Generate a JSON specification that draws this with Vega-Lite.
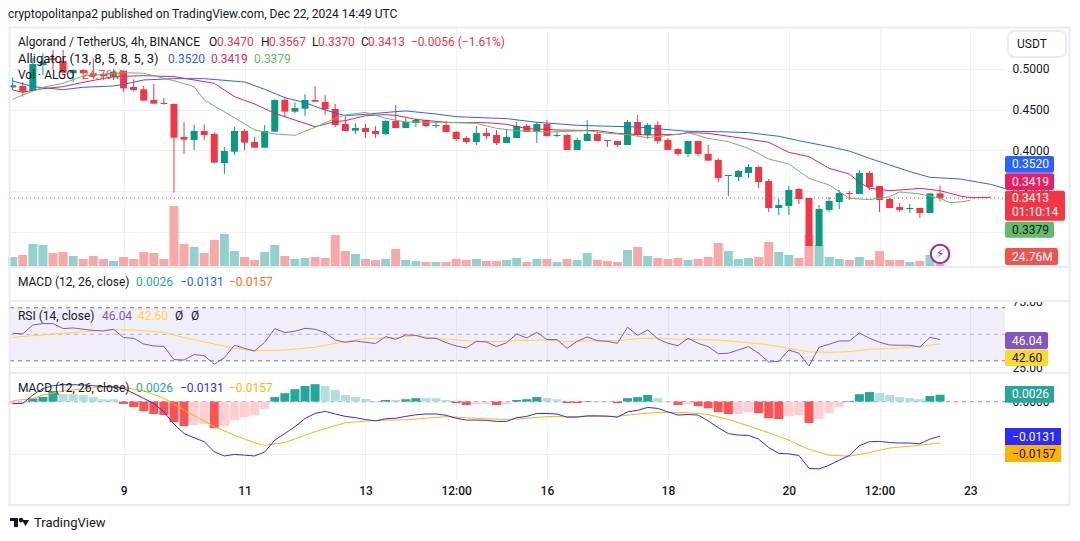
{"$schema":"https://vega.github.io/schema/vega-lite/v6.json","padding":0,"background":"#ffffff","spacing":0,"bounds":"flush",
"resolve":{"scale":{"color":"independent","fill":"independent"}},
"config":{"font":"Roboto","view":{"stroke":null},"axis":{"domain":false,"ticks":false,"title":null,"gridColor":"#f0f1f6","gridWidth":1,"labelColor":"#131722","labelFont":"Roboto","labelFontSize":12,"labelOverlap":false,"labelFlush":false}},
"datasets":{
"main":[
{"t":"2024-12-07T04:00Z","o":0.4773,"h":0.4896,"l":0.4741,"c":0.4798,"v":90,"r":50.8,"m":-0.0007,"g":-0.0011,"p":"d"},
{"t":"2024-12-07T08:00Z","o":0.4790,"h":0.4839,"l":0.4659,"c":0.4720,"v":110,"r":50.3,"m":-0.0007,"g":-0.0007,"p":"d"},
{"t":"2024-12-07T12:00Z","o":0.4728,"h":0.5130,"l":0.4728,"c":0.5060,"v":220,"r":57.0,"m":0.0025,"g":0.0012,"p":"a"},
{"t":"2024-12-07T16:00Z","o":0.5048,"h":0.5191,"l":0.4925,"c":0.5089,"v":210,"r":58.1,"m":0.0050,"g":0.0018,"p":"a"},
{"t":"2024-12-07T20:00Z","o":0.5130,"h":0.5232,"l":0.4987,"c":0.5109,"v":130,"r":58.1,"m":0.0060,"g":0.0040,"p":"a"},
{"t":"2024-12-08T00:00Z","o":0.5097,"h":0.5232,"l":0.4946,"c":0.4954,"v":140,"r":54.3,"m":0.0064,"g":0.0028,"p":"b"},
{"t":"2024-12-08T04:00Z","o":0.4946,"h":0.4995,"l":0.4843,"c":0.4987,"v":100,"r":54.8,"m":0.0064,"g":0.0028,"p":"b"},
{"t":"2024-12-08T08:00Z","o":0.4987,"h":0.4995,"l":0.4872,"c":0.4946,"v":70,"r":53.8,"m":0.0063,"g":0.0025,"p":"b"},
{"t":"2024-12-08T12:00Z","o":0.4946,"h":0.5130,"l":0.4884,"c":0.4913,"v":100,"r":53.0,"m":0.0060,"g":0.0017,"p":"b"},
{"t":"2024-12-08T16:00Z","o":0.4937,"h":0.4954,"l":0.4864,"c":0.4913,"v":70,"r":52.5,"m":0.0057,"g":0.0009,"p":"b"},
{"t":"2024-12-08T20:00Z","o":0.4896,"h":0.4995,"l":0.4864,"c":0.4966,"v":50,"r":53.8,"m":0.0056,"g":0.0009,"p":"b"},
{"t":"2024-12-09T00:00Z","o":0.4978,"h":0.4978,"l":0.4720,"c":0.4761,"v":90,"r":47.5,"m":0.0050,"g":-0.0009,"p":"c"},
{"t":"2024-12-09T04:00Z","o":0.4778,"h":0.4872,"l":0.4720,"c":0.4741,"v":70,"r":47.0,"m":0.0031,"g":-0.0021,"p":"c"},
{"t":"2024-12-09T08:00Z","o":0.4749,"h":0.4790,"l":0.4610,"c":0.4610,"v":140,"r":42.7,"m":0.0012,"g":-0.0036,"p":"c"},
{"t":"2024-12-09T12:00Z","o":0.4618,"h":0.4814,"l":0.4573,"c":0.4573,"v":130,"r":41.2,"m":-0.0007,"g":-0.0047,"p":"c"},
{"t":"2024-12-09T16:00Z","o":0.4581,"h":0.4642,"l":0.4561,"c":0.4569,"v":70,"r":40.9,"m":-0.0039,"g":-0.0051,"p":"c"},
{"t":"2024-12-09T20:00Z","o":0.4569,"h":0.4577,"l":0.3480,"c":0.4155,"v":600,"r":30.9,"m":-0.0085,"g":-0.0078,"p":"c"},
{"t":"2024-12-10T00:00Z","o":0.4163,"h":0.4344,"l":0.3954,"c":0.4131,"v":220,"r":30.6,"m":-0.0121,"g":-0.0093,"p":"c"},
{"t":"2024-12-10T04:00Z","o":0.4127,"h":0.4315,"l":0.4004,"c":0.4237,"v":190,"r":34.7,"m":-0.0137,"g":-0.0089,"p":"d"},
{"t":"2024-12-10T08:00Z","o":0.4237,"h":0.4319,"l":0.4127,"c":0.4188,"v":130,"r":33.9,"m":-0.0152,"g":-0.0085,"p":"d"},
{"t":"2024-12-10T12:00Z","o":0.4200,"h":0.4217,"l":0.3848,"c":0.3848,"v":260,"r":27.4,"m":-0.0190,"g":-0.0100,"p":"c"},
{"t":"2024-12-10T16:00Z","o":0.3844,"h":0.4040,"l":0.3709,"c":0.3991,"v":320,"r":32.4,"m":-0.0206,"g":-0.0093,"p":"d"},
{"t":"2024-12-10T20:00Z","o":0.3983,"h":0.4286,"l":0.3942,"c":0.4237,"v":150,"r":41.7,"m":-0.0200,"g":-0.0070,"p":"d"},
{"t":"2024-12-11T00:00Z","o":0.4237,"h":0.4262,"l":0.4004,"c":0.4094,"v":90,"r":39.4,"m":-0.0203,"g":-0.0059,"p":"d"},
{"t":"2024-12-11T04:00Z","o":0.4102,"h":0.4163,"l":0.4032,"c":0.4032,"v":60,"r":37.4,"m":-0.0206,"g":-0.0051,"p":"d"},
{"t":"2024-12-11T08:00Z","o":0.4032,"h":0.4311,"l":0.4032,"c":0.4237,"v":140,"r":44.0,"m":-0.0191,"g":-0.0028,"p":"d"},
{"t":"2024-12-11T12:00Z","o":0.4229,"h":0.4626,"l":0.4229,"c":0.4618,"v":210,"r":54.3,"m":-0.0146,"g":0.0017,"p":"a"},
{"t":"2024-12-11T16:00Z","o":0.4618,"h":0.4659,"l":0.4413,"c":0.4475,"v":100,"r":51.3,"m":-0.0121,"g":0.0032,"p":"a"},
{"t":"2024-12-11T20:00Z","o":0.4475,"h":0.4589,"l":0.4454,"c":0.4520,"v":70,"r":52.3,"m":-0.0095,"g":0.0047,"p":"a"},
{"t":"2024-12-12T00:00Z","o":0.4511,"h":0.4688,"l":0.4421,"c":0.4618,"v":80,"r":54.5,"m":-0.0064,"g":0.0059,"p":"a"},
{"t":"2024-12-12T04:00Z","o":0.4618,"h":0.4790,"l":0.4597,"c":0.4597,"v":90,"r":53.8,"m":-0.0045,"g":0.0066,"p":"a"},
{"t":"2024-12-12T08:00Z","o":0.4593,"h":0.4679,"l":0.4438,"c":0.4503,"v":80,"r":51.3,"m":-0.0037,"g":0.0059,"p":"b"},
{"t":"2024-12-12T12:00Z","o":0.4507,"h":0.4569,"l":0.4290,"c":0.4311,"v":310,"r":45.7,"m":-0.0047,"g":0.0044,"p":"b"},
{"t":"2024-12-12T16:00Z","o":0.4323,"h":0.4421,"l":0.4237,"c":0.4237,"v":150,"r":44.0,"m":-0.0056,"g":0.0025,"p":"b"},
{"t":"2024-12-12T20:00Z","o":0.4241,"h":0.4331,"l":0.4200,"c":0.4274,"v":120,"r":45.0,"m":-0.0061,"g":0.0017,"p":"b"},
{"t":"2024-12-13T00:00Z","o":0.4274,"h":0.4323,"l":0.4151,"c":0.4225,"v":70,"r":44.0,"m":-0.0068,"g":0.0010,"p":"b"},
{"t":"2024-12-13T04:00Z","o":0.4237,"h":0.4299,"l":0.4151,"c":0.4200,"v":60,"r":43.0,"m":-0.0073,"g":0.0002,"p":"b"},
{"t":"2024-12-13T08:00Z","o":0.4200,"h":0.4372,"l":0.4188,"c":0.4360,"v":70,"r":48.2,"m":-0.0065,"g":0.0006,"p":"a"},
{"t":"2024-12-13T12:00Z","o":0.4360,"h":0.4557,"l":0.4274,"c":0.4274,"v":170,"r":46.2,"m":-0.0063,"g":0.0006,"p":"b"},
{"t":"2024-12-13T16:00Z","o":0.4274,"h":0.4397,"l":0.4274,"c":0.4348,"v":60,"r":49.5,"m":-0.0056,"g":0.0009,"p":"a"},
{"t":"2024-12-13T20:00Z","o":0.4335,"h":0.4393,"l":0.4286,"c":0.4372,"v":50,"r":49.2,"m":-0.0050,"g":0.0013,"p":"a"},
{"t":"2024-12-14T00:00Z","o":0.4372,"h":0.4372,"l":0.4286,"c":0.4299,"v":40,"r":47.0,"m":-0.0047,"g":0.0013,"p":"b"},
{"t":"2024-12-14T04:00Z","o":0.4299,"h":0.4360,"l":0.4274,"c":0.4311,"v":40,"r":47.0,"m":-0.0047,"g":0.0013,"p":"b"},
{"t":"2024-12-14T08:00Z","o":0.4311,"h":0.4360,"l":0.4225,"c":0.4225,"v":40,"r":43.7,"m":-0.0052,"g":0.0006,"p":"b"},
{"t":"2024-12-14T12:00Z","o":0.4225,"h":0.4237,"l":0.4114,"c":0.4139,"v":70,"r":41.2,"m":-0.0063,"g":-0.0006,"p":"c"},
{"t":"2024-12-14T16:00Z","o":0.4151,"h":0.4176,"l":0.4077,"c":0.4102,"v":60,"r":39.7,"m":-0.0070,"g":-0.0013,"p":"c"},
{"t":"2024-12-14T20:00Z","o":0.4102,"h":0.4299,"l":0.4065,"c":0.4212,"v":70,"r":44.7,"m":-0.0070,"g":-0.0009,"p":"d"},
{"t":"2024-12-15T00:00Z","o":0.4212,"h":0.4274,"l":0.4139,"c":0.4176,"v":50,"r":44.2,"m":-0.0071,"g":-0.0009,"p":"d"},
{"t":"2024-12-15T04:00Z","o":0.4188,"h":0.4249,"l":0.4065,"c":0.4090,"v":50,"r":40.7,"m":-0.0075,"g":-0.0013,"p":"c"},
{"t":"2024-12-15T08:00Z","o":0.4090,"h":0.4249,"l":0.4090,"c":0.4163,"v":60,"r":43.7,"m":-0.0075,"g":-0.0009,"p":"d"},
{"t":"2024-12-15T12:00Z","o":0.4151,"h":0.4348,"l":0.4151,"c":0.4299,"v":80,"r":50.3,"m":-0.0061,"g":0.0006,"p":"a"},
{"t":"2024-12-15T16:00Z","o":0.4299,"h":0.4323,"l":0.4225,"c":0.4225,"v":40,"r":47.2,"m":-0.0056,"g":0.0009,"p":"a"},
{"t":"2024-12-15T20:00Z","o":0.4225,"h":0.4348,"l":0.4090,"c":0.4323,"v":70,"r":51.5,"m":-0.0045,"g":0.0017,"p":"a"},
{"t":"2024-12-16T00:00Z","o":0.4323,"h":0.4372,"l":0.4163,"c":0.4176,"v":70,"r":46.0,"m":-0.0045,"g":0.0013,"p":"b"},
{"t":"2024-12-16T04:00Z","o":0.4176,"h":0.4237,"l":0.4163,"c":0.4188,"v":40,"r":46.0,"m":-0.0047,"g":0.0009,"p":"b"},
{"t":"2024-12-16T08:00Z","o":0.4188,"h":0.4200,"l":0.4004,"c":0.4004,"v":70,"r":39.4,"m":-0.0059,"g":-0.0006,"p":"c"},
{"t":"2024-12-16T12:00Z","o":0.4004,"h":0.4151,"l":0.4004,"c":0.4127,"v":60,"r":44.7,"m":-0.0059,"g":-0.0006,"p":"c"},
{"t":"2024-12-16T16:00Z","o":0.4114,"h":0.4372,"l":0.4114,"c":0.4200,"v":130,"r":48.0,"m":-0.0054,"g":0.0002,"p":"a"},
{"t":"2024-12-16T20:00Z","o":0.4200,"h":0.4249,"l":0.4114,"c":0.4114,"v":60,"r":45.2,"m":-0.0054,"g":0.0002,"p":"b"},
{"t":"2024-12-17T00:00Z","o":0.4127,"h":0.4127,"l":0.4041,"c":0.4114,"v":50,"r":44.7,"m":-0.0055,"g":0.0002,"p":"b"},
{"t":"2024-12-17T04:00Z","o":0.4114,"h":0.4114,"l":0.4041,"c":0.4065,"v":40,"r":43.2,"m":-0.0059,"g":-0.0006,"p":"c"},
{"t":"2024-12-17T08:00Z","o":0.4065,"h":0.4372,"l":0.4065,"c":0.4348,"v":160,"r":55.3,"m":-0.0039,"g":0.0013,"p":"a"},
{"t":"2024-12-17T12:00Z","o":0.4348,"h":0.4434,"l":0.4176,"c":0.4188,"v":190,"r":49.2,"m":-0.0033,"g":0.0017,"p":"a"},
{"t":"2024-12-17T16:00Z","o":0.4188,"h":0.4335,"l":0.4139,"c":0.4311,"v":100,"r":53.3,"m":-0.0022,"g":0.0025,"p":"a"},
{"t":"2024-12-17T20:00Z","o":0.4311,"h":0.4360,"l":0.4077,"c":0.4114,"v":80,"r":46.5,"m":-0.0026,"g":0.0013,"p":"b"},
{"t":"2024-12-18T00:00Z","o":0.4127,"h":0.4151,"l":0.4004,"c":0.4004,"v":70,"r":43.2,"m":-0.0039,"g":0.0002,"p":"b"},
{"t":"2024-12-18T04:00Z","o":0.4016,"h":0.4028,"l":0.3930,"c":0.3955,"v":80,"r":41.4,"m":-0.0051,"g":-0.0013,"p":"c"},
{"t":"2024-12-18T08:00Z","o":0.3955,"h":0.4114,"l":0.3918,"c":0.4114,"v":60,"r":47.0,"m":-0.0049,"g":-0.0009,"p":"d"},
{"t":"2024-12-18T12:00Z","o":0.4114,"h":0.4114,"l":0.3930,"c":0.3955,"v":70,"r":43.2,"m":-0.0051,"g":-0.0017,"p":"c"},
{"t":"2024-12-18T16:00Z","o":0.3955,"h":0.4065,"l":0.3873,"c":0.3873,"v":90,"r":40.7,"m":-0.0073,"g":-0.0025,"p":"c"},
{"t":"2024-12-18T20:00Z","o":0.3881,"h":0.3905,"l":0.3610,"c":0.3660,"v":230,"r":35.4,"m":-0.0099,"g":-0.0040,"p":"c"},
{"t":"2024-12-19T00:00Z","o":0.3684,"h":0.3697,"l":0.3438,"c":0.3697,"v":150,"r":35.7,"m":-0.0121,"g":-0.0047,"p":"c"},
{"t":"2024-12-19T04:00Z","o":0.3672,"h":0.3758,"l":0.3623,"c":0.3746,"v":70,"r":38.2,"m":-0.0127,"g":-0.0047,"p":"d"},
{"t":"2024-12-19T08:00Z","o":0.3721,"h":0.3832,"l":0.3660,"c":0.3795,"v":80,"r":40.7,"m":-0.0128,"g":-0.0040,"p":"d"},
{"t":"2024-12-19T12:00Z","o":0.3795,"h":0.3807,"l":0.3537,"c":0.3610,"v":90,"r":35.7,"m":-0.0142,"g":-0.0044,"p":"c"},
{"t":"2024-12-19T16:00Z","o":0.3623,"h":0.3647,"l":0.3242,"c":0.3291,"v":240,"r":29.1,"m":-0.0174,"g":-0.0063,"p":"c"},
{"t":"2024-12-19T20:00Z","o":0.3291,"h":0.3402,"l":0.3205,"c":0.3328,"v":140,"r":29.6,"m":-0.0196,"g":-0.0066,"p":"c"},
{"t":"2024-12-20T00:00Z","o":0.3316,"h":0.3561,"l":0.3205,"c":0.3512,"v":110,"r":38.2,"m":-0.0198,"g":-0.0055,"p":"d"},
{"t":"2024-12-20T04:00Z","o":0.3525,"h":0.3537,"l":0.3340,"c":0.3402,"v":80,"r":35.7,"m":-0.0204,"g":-0.0051,"p":"d"},
{"t":"2024-12-20T08:00Z","o":0.3414,"h":0.3414,"l":0.2824,"c":0.2824,"v":310,"r":26.1,"m":-0.0253,"g":-0.0081,"p":"c"},
{"t":"2024-12-20T12:00Z","o":0.2824,"h":0.3328,"l":0.2824,"c":0.3279,"v":210,"r":40.2,"m":-0.0255,"g":-0.0066,"p":"d"},
{"t":"2024-12-20T16:00Z","o":0.3267,"h":0.3426,"l":0.3242,"c":0.3377,"v":90,"r":42.5,"m":-0.0241,"g":-0.0044,"p":"d"},
{"t":"2024-12-20T20:00Z","o":0.3365,"h":0.3512,"l":0.3279,"c":0.3475,"v":70,"r":45.0,"m":-0.0222,"g":-0.0021,"p":"d"},
{"t":"2024-12-21T00:00Z","o":0.3475,"h":0.3500,"l":0.3389,"c":0.3463,"v":60,"r":45.0,"m":-0.0204,"g":0.0002,"p":"a"},
{"t":"2024-12-21T04:00Z","o":0.3463,"h":0.3758,"l":0.3463,"c":0.3721,"v":90,"r":51.0,"m":-0.0167,"g":0.0028,"p":"a"},
{"t":"2024-12-21T08:00Z","o":0.3721,"h":0.3746,"l":0.3512,"c":0.3549,"v":60,"r":47.0,"m":-0.0152,"g":0.0036,"p":"a"},
{"t":"2024-12-21T12:00Z","o":0.3561,"h":0.3561,"l":0.3242,"c":0.3389,"v":150,"r":44.0,"m":-0.0151,"g":0.0032,"p":"b"},
{"t":"2024-12-21T16:00Z","o":0.3402,"h":0.3414,"l":0.3291,"c":0.3291,"v":60,"r":41.9,"m":-0.0155,"g":0.0025,"p":"b"},
{"t":"2024-12-21T20:00Z","o":0.3303,"h":0.3353,"l":0.3242,"c":0.3267,"v":60,"r":41.7,"m":-0.0157,"g":0.0017,"p":"b"},
{"t":"2024-12-22T00:00Z","o":0.3279,"h":0.3340,"l":0.3230,"c":0.3291,"v":40,"r":41.7,"m":-0.0157,"g":0.0013,"p":"b"},
{"t":"2024-12-22T04:00Z","o":0.3291,"h":0.3291,"l":0.3168,"c":0.3230,"v":50,"r":40.4,"m":-0.0160,"g":0.0009,"p":"b"},
{"t":"2024-12-22T08:00Z","o":0.3230,"h":0.3470,"l":0.3230,"c":0.3470,"v":110,"r":47.7,"m":-0.0142,"g":0.0021,"p":"a"},
{"t":"2024-12-22T12:00Z","o":0.3470,"h":0.3567,"l":0.3370,"c":0.3413,"v":24.76,"r":46.04,"m":-0.0131,"g":0.0026,"p":"a"}
],
"jaw":[{"t":"2024-12-07T04:00Z","v":0.4851},{"t":"2024-12-07T12:00Z","v":0.4782},{"t":"2024-12-08T00:00Z","v":0.4745},{"t":"2024-12-08T08:00Z","v":0.4774},{"t":"2024-12-08T20:00Z","v":0.4790},{"t":"2024-12-09T00:00Z","v":0.4810},{"t":"2024-12-09T08:00Z","v":0.4864},{"t":"2024-12-09T20:00Z","v":0.4880},{"t":"2024-12-10T08:00Z","v":0.4880},{"t":"2024-12-11T00:00Z","v":0.4839},{"t":"2024-12-11T08:00Z","v":0.4749},{"t":"2024-12-11T16:00Z","v":0.4647},{"t":"2024-12-12T00:00Z","v":0.4585},{"t":"2024-12-12T08:00Z","v":0.4495},{"t":"2024-12-12T16:00Z","v":0.4425},{"t":"2024-12-13T00:00Z","v":0.4442},{"t":"2024-12-13T12:00Z","v":0.4475},{"t":"2024-12-13T16:00Z","v":0.4483},{"t":"2024-12-14T04:00Z","v":0.4446},{"t":"2024-12-14T12:00Z","v":0.4413},{"t":"2024-12-15T08:00Z","v":0.4389},{"t":"2024-12-15T20:00Z","v":0.4344},{"t":"2024-12-16T12:00Z","v":0.4307},{"t":"2024-12-17T12:00Z","v":0.4286},{"t":"2024-12-18T08:00Z","v":0.4233},{"t":"2024-12-18T20:00Z","v":0.4229},{"t":"2024-12-19T08:00Z","v":0.4217},{"t":"2024-12-19T20:00Z","v":0.4172},{"t":"2024-12-20T04:00Z","v":0.4118},{"t":"2024-12-20T16:00Z","v":0.4045},{"t":"2024-12-21T00:00Z","v":0.3991},{"t":"2024-12-21T08:00Z","v":0.3901},{"t":"2024-12-21T16:00Z","v":0.3820},{"t":"2024-12-22T00:00Z","v":0.3738},{"t":"2024-12-22T08:00Z","v":0.3668},{"t":"2024-12-22T20:00Z","v":0.3647},{"t":"2024-12-23T08:00Z","v":0.3582},{"t":"2024-12-23T16:00Z","v":0.3512}],
"teeth":[{"t":"2024-12-07T04:00Z","v":0.4741},{"t":"2024-12-07T08:00Z","v":0.4712},{"t":"2024-12-07T12:00Z","v":0.4737},{"t":"2024-12-07T16:00Z","v":0.4757},{"t":"2024-12-08T00:00Z","v":0.4782},{"t":"2024-12-08T08:00Z","v":0.4835},{"t":"2024-12-08T20:00Z","v":0.4905},{"t":"2024-12-09T08:00Z","v":0.4917},{"t":"2024-12-09T20:00Z","v":0.4905},{"t":"2024-12-10T12:00Z","v":0.4823},{"t":"2024-12-10T20:00Z","v":0.4659},{"t":"2024-12-11T04:00Z","v":0.4569},{"t":"2024-12-11T12:00Z","v":0.4454},{"t":"2024-12-11T20:00Z","v":0.4372},{"t":"2024-12-12T04:00Z","v":0.4290},{"t":"2024-12-12T12:00Z","v":0.4352},{"t":"2024-12-12T16:00Z","v":0.4364},{"t":"2024-12-13T00:00Z","v":0.4425},{"t":"2024-12-13T08:00Z","v":0.4438},{"t":"2024-12-13T12:00Z","v":0.4430},{"t":"2024-12-13T20:00Z","v":0.4380},{"t":"2024-12-14T08:00Z","v":0.4343},{"t":"2024-12-15T00:00Z","v":0.4339},{"t":"2024-12-15T08:00Z","v":0.4319},{"t":"2024-12-15T16:00Z","v":0.4266},{"t":"2024-12-16T04:00Z","v":0.4250},{"t":"2024-12-16T20:00Z","v":0.4241},{"t":"2024-12-17T04:00Z","v":0.4208},{"t":"2024-12-17T16:00Z","v":0.4188},{"t":"2024-12-18T04:00Z","v":0.4196},{"t":"2024-12-18T08:00Z","v":0.4217},{"t":"2024-12-18T16:00Z","v":0.4208},{"t":"2024-12-19T04:00Z","v":0.4155},{"t":"2024-12-19T16:00Z","v":0.4098},{"t":"2024-12-20T00:00Z","v":0.3975},{"t":"2024-12-20T08:00Z","v":0.3922},{"t":"2024-12-20T16:00Z","v":0.3778},{"t":"2024-12-21T00:00Z","v":0.3709},{"t":"2024-12-21T04:00Z","v":0.3607},{"t":"2024-12-21T08:00Z","v":0.3533},{"t":"2024-12-21T16:00Z","v":0.3504},{"t":"2024-12-22T00:00Z","v":0.3521},{"t":"2024-12-22T04:00Z","v":0.3533},{"t":"2024-12-22T12:00Z","v":0.3504},{"t":"2024-12-22T20:00Z","v":0.3439},{"t":"2024-12-23T00:00Z","v":0.3418},{"t":"2024-12-23T08:00Z","v":0.3422}],
"lips":[{"t":"2024-12-07T04:00Z","v":0.4626},{"t":"2024-12-07T08:00Z","v":0.4679},{"t":"2024-12-07T16:00Z","v":0.4774},{"t":"2024-12-08T00:00Z","v":0.4823},{"t":"2024-12-08T08:00Z","v":0.4913},{"t":"2024-12-09T00:00Z","v":0.4954},{"t":"2024-12-09T08:00Z","v":0.4946},{"t":"2024-12-09T20:00Z","v":0.4855},{"t":"2024-12-10T04:00Z","v":0.4782},{"t":"2024-12-10T08:00Z","v":0.4618},{"t":"2024-12-10T12:00Z","v":0.4544},{"t":"2024-12-10T20:00Z","v":0.4401},{"t":"2024-12-11T04:00Z","v":0.4250},{"t":"2024-12-11T12:00Z","v":0.4200},{"t":"2024-12-11T20:00Z","v":0.4184},{"t":"2024-12-12T04:00Z","v":0.4282},{"t":"2024-12-12T12:00Z","v":0.4393},{"t":"2024-12-12T16:00Z","v":0.4434},{"t":"2024-12-13T00:00Z","v":0.4466},{"t":"2024-12-13T08:00Z","v":0.4393},{"t":"2024-12-13T16:00Z","v":0.4348},{"t":"2024-12-14T08:00Z","v":0.4343},{"t":"2024-12-14T20:00Z","v":0.4331},{"t":"2024-12-15T04:00Z","v":0.4270},{"t":"2024-12-15T12:00Z","v":0.4241},{"t":"2024-12-16T00:00Z","v":0.4225},{"t":"2024-12-16T16:00Z","v":0.4241},{"t":"2024-12-17T00:00Z","v":0.4208},{"t":"2024-12-17T08:00Z","v":0.4192},{"t":"2024-12-17T16:00Z","v":0.4155},{"t":"2024-12-18T04:00Z","v":0.4196},{"t":"2024-12-18T08:00Z","v":0.4217},{"t":"2024-12-18T16:00Z","v":0.4147},{"t":"2024-12-19T00:00Z","v":0.4106},{"t":"2024-12-19T08:00Z","v":0.4024},{"t":"2024-12-19T16:00Z","v":0.3893},{"t":"2024-12-20T00:00Z","v":0.3832},{"t":"2024-12-20T08:00Z","v":0.3656},{"t":"2024-12-20T16:00Z","v":0.3574},{"t":"2024-12-21T00:00Z","v":0.3410},{"t":"2024-12-21T08:00Z","v":0.3394},{"t":"2024-12-21T16:00Z","v":0.3430},{"t":"2024-12-21T20:00Z","v":0.3488},{"t":"2024-12-22T04:00Z","v":0.3463},{"t":"2024-12-22T12:00Z","v":0.3410},{"t":"2024-12-22T16:00Z","v":0.3357},{"t":"2024-12-22T20:00Z","v":0.3365},{"t":"2024-12-23T00:00Z","v":0.3385}],
"rsima":[{"t":"2024-12-07T04:00Z","v":47.7},{"t":"2024-12-08T00:00Z","v":50.8},{"t":"2024-12-08T20:00Z","v":53.5},{"t":"2024-12-09T04:00Z","v":53.3},{"t":"2024-12-09T16:00Z","v":51.5},{"t":"2024-12-10T00:00Z","v":47.5},{"t":"2024-12-10T12:00Z","v":42.7},{"t":"2024-12-10T20:00Z","v":39.4},{"t":"2024-12-11T04:00Z","v":37.4},{"t":"2024-12-11T16:00Z","v":38.2},{"t":"2024-12-12T04:00Z","v":40.2},{"t":"2024-12-12T16:00Z","v":44.5},{"t":"2024-12-13T00:00Z","v":46.7},{"t":"2024-12-13T12:00Z","v":47.5},{"t":"2024-12-13T20:00Z","v":49.0},{"t":"2024-12-14T04:00Z","v":47.0},{"t":"2024-12-14T12:00Z","v":45.7},{"t":"2024-12-14T20:00Z","v":44.7},{"t":"2024-12-15T04:00Z","v":44.5},{"t":"2024-12-15T12:00Z","v":45.2},{"t":"2024-12-16T00:00Z","v":45.7},{"t":"2024-12-16T08:00Z","v":44.5},{"t":"2024-12-16T16:00Z","v":45.0},{"t":"2024-12-17T04:00Z","v":45.2},{"t":"2024-12-17T12:00Z","v":46.7},{"t":"2024-12-17T20:00Z","v":47.2},{"t":"2024-12-18T04:00Z","v":46.2},{"t":"2024-12-18T20:00Z","v":45.7},{"t":"2024-12-19T08:00Z","v":43.7},{"t":"2024-12-19T16:00Z","v":42.0},{"t":"2024-12-20T00:00Z","v":39.4},{"t":"2024-12-20T08:00Z","v":36.7},{"t":"2024-12-20T16:00Z","v":36.4},{"t":"2024-12-21T00:00Z","v":36.9},{"t":"2024-12-21T08:00Z","v":38.7},{"t":"2024-12-21T16:00Z","v":39.2},{"t":"2024-12-22T00:00Z","v":40.2},{"t":"2024-12-22T12:00Z","v":42.6}],
"signal":[{"t":"2024-12-07T04:00Z","v":0.0003},{"t":"2024-12-07T12:00Z","v":0.0012},{"t":"2024-12-07T16:00Z","v":0.0025},{"t":"2024-12-08T00:00Z","v":0.0040},{"t":"2024-12-08T12:00Z","v":0.0052},{"t":"2024-12-09T00:00Z","v":0.0054},{"t":"2024-12-09T08:00Z","v":0.0041},{"t":"2024-12-09T16:00Z","v":0.0013},{"t":"2024-12-10T00:00Z","v":-0.0032},{"t":"2024-12-10T12:00Z","v":-0.0095},{"t":"2024-12-10T20:00Z","v":-0.0127},{"t":"2024-12-11T04:00Z","v":-0.0156},{"t":"2024-12-11T08:00Z","v":-0.0166},{"t":"2024-12-11T16:00Z","v":-0.0155},{"t":"2024-12-12T04:00Z","v":-0.0114},{"t":"2024-12-12T16:00Z","v":-0.0080},{"t":"2024-12-13T00:00Z","v":-0.0074},{"t":"2024-12-13T08:00Z","v":-0.0070},{"t":"2024-12-13T16:00Z","v":-0.0069},{"t":"2024-12-14T00:00Z","v":-0.0063},{"t":"2024-12-14T08:00Z","v":-0.0057},{"t":"2024-12-14T16:00Z","v":-0.0061},{"t":"2024-12-15T00:00Z","v":-0.0065},{"t":"2024-12-15T08:00Z","v":-0.0068},{"t":"2024-12-15T16:00Z","v":-0.0063},{"t":"2024-12-16T00:00Z","v":-0.0057},{"t":"2024-12-16T08:00Z","v":-0.0057},{"t":"2024-12-16T16:00Z","v":-0.0056},{"t":"2024-12-17T04:00Z","v":-0.0056},{"t":"2024-12-17T12:00Z","v":-0.0047},{"t":"2024-12-17T20:00Z","v":-0.0041},{"t":"2024-12-18T04:00Z","v":-0.0041},{"t":"2024-12-18T08:00Z","v":-0.0042},{"t":"2024-12-18T16:00Z","v":-0.0049},{"t":"2024-12-19T00:00Z","v":-0.0068},{"t":"2024-12-19T08:00Z","v":-0.0092},{"t":"2024-12-19T16:00Z","v":-0.0118},{"t":"2024-12-20T00:00Z","v":-0.0146},{"t":"2024-12-20T08:00Z","v":-0.0181},{"t":"2024-12-20T16:00Z","v":-0.0203},{"t":"2024-12-21T00:00Z","v":-0.0207},{"t":"2024-12-21T08:00Z","v":-0.0193},{"t":"2024-12-21T16:00Z","v":-0.0176},{"t":"2024-12-22T00:00Z","v":-0.0169},{"t":"2024-12-22T12:00Z","v":-0.0157}]
},
"vconcat":[
{"width":995,"height":240,
"encoding":{"x":{"field":"t","type":"temporal","title":null,"scale":{"type":"utc","padding":0,"domain":[1733540160000,1734961620000]},"axis":{"values":[1733702400000,1733875200000,1734048000000,1734177600000,1734307200000,1734480000000,1734652800000,1734782400000,1734912000000],"labels":false,"grid":true}}},
"resolve":{"scale":{"y":"independent"}},
"layer":[
{"data":{"name":"main"},"mark":{"type":"bar","width":9},"encoding":{"y":{"field":"v","type":"quantitative","title":null,"axis":null,"scale":{"domain":[-10,2390],"nice":false,"zero":false}},"y2":{"datum":0},"color":{"condition":{"test":"datum.c>=datum.o","value":"#93d2cc"},"value":"#f7a9a7"}}},
{"layer":[
{"data":{"values":[{"t":"2024-12-07T02:56Z","t2":"2024-12-23T13:47Z","y":0.3413}]},"mark":{"type":"rule","stroke":"#f23645","strokeWidth":1,"strokeDash":[1,3]},"encoding":{"x2":{"field":"t2"},"y":{"field":"y","type":"quantitative","title":null,"scale":{"domain":[0.25663,0.55147],"nice":false,"zero":false},"axis":{"orient":"right","values":[0.5,0.45,0.4,0.35,0.3],"format":".4f","grid":true,"labelPadding":7}}}},
{"data":{"name":"main"},"mark":{"type":"rule","strokeWidth":1},"encoding":{"y":{"field":"h","type":"quantitative"},"y2":{"field":"l"},"color":{"condition":{"test":"datum.c>=datum.o","value":"#089981"},"value":"#f23645"}}},
{"data":{"name":"main"},"mark":{"type":"bar","width":7},"encoding":{"y":{"field":"o","type":"quantitative"},"y2":{"field":"c"},"color":{"condition":{"test":"datum.c>=datum.o","value":"#089981"},"value":"#f23645"}}},
{"data":{"name":"jaw"},"mark":{"type":"line","stroke":"#2962ff","strokeWidth":1,"clip":true},"encoding":{"y":{"field":"v","type":"quantitative"}}},
{"data":{"name":"teeth"},"mark":{"type":"line","stroke":"#e91e63","strokeWidth":1,"clip":true},"encoding":{"y":{"field":"v","type":"quantitative"}}},
{"data":{"name":"lips"},"mark":{"type":"line","stroke":"#66bb6a","strokeWidth":1,"clip":true},"encoding":{"y":{"field":"v","type":"quantitative"}}},
{"data":{"values":[
{"t":"2024-12-23T13:47Z","t2":"2024-12-24T09:14Z","y":0.3930,"y2":0.3725,"k":"blue"},
{"t":"2024-12-23T13:47Z","t2":"2024-12-24T09:14Z","y":0.3717,"y2":0.3512,"k":"pink"},
{"t":"2024-12-23T13:47Z","t2":"2024-12-24T13:36Z","y":0.3504,"y2":0.3135,"k":"red"},
{"t":"2024-12-23T13:47Z","t2":"2024-12-24T09:14Z","y":0.3123,"y2":0.2926,"k":"green"},
{"t":"2024-12-23T13:47Z","t2":"2024-12-24T10:49Z","y":0.2800,"y2":0.2591,"k":"volred"}
]},"mark":{"type":"rect","cornerRadius":2},"encoding":{"x2":{"field":"t2"},"y":{"field":"y","type":"quantitative"},"y2":{"field":"y2"},"fill":{"field":"k","type":"nominal","legend":null,"scale":{"domain":["blue","pink","red","green","volred"],"range":["#2962ff","#e91e63","#f23645","#66bb6a","#ef5350"]}}}},
{"data":{"values":[{"t":"2024-12-23T14:58Z","t2":"2024-12-24T14:00Z","y":0.5466,"y2":0.5146}]},"mark":{"type":"rect","cornerRadius":6,"fill":"transparent","stroke":"#e9ebf2","strokeWidth":2},"encoding":{"x2":{"field":"t2"},"y":{"field":"y","type":"quantitative"},"y2":{"field":"y2"}}},
{"data":{"values":[{"t":"2024-12-22T12:00Z","y":0.2726}]},"mark":{"type":"point","filled":true,"fill":"#ffffff","stroke":"#9c27b0","strokeWidth":2,"size":340,"opacity":1},"encoding":{"y":{"field":"y","type":"quantitative"}}},
{"data":{"values":[{"t":"2024-12-22T12:00Z","y":0.2726,"s":"⚡"}]},"mark":{"type":"text","align":"center","baseline":"middle","font":"DejaVu Sans","fontSize":13,"color":"#9c27b0"},"encoding":{"y":{"field":"y","type":"quantitative"},"text":{"field":"s"}}},
{"data":{"values":[
{"t":"2024-12-07T06:06Z","y":0.5122,"s":"Alligator (13, 8, 5, 8, 5, 3)"}
]},"mark":{"type":"text","align":"left","baseline":"middle","fontSize":13,"color":"#131722"},"encoding":{"y":{"field":"y","type":"quantitative"},"text":{"field":"s"}}},
{"data":{"values":[
{"t":"2024-12-07T02:08Z","y":0.5674,"s":"cryptopolitanpa2 published on TradingView.com, Dec 22, 2024 14:49 UTC","k":"ink"},
{"t":"2024-12-07T06:06Z","y":0.5330,"s":"Algorand / TetherUS, 4h, BINANCE","k":"ink"},
{"t":"2024-12-10T09:54Z","y":0.5330,"s":"O","k":"ink"},
{"t":"2024-12-10T13:04Z","y":0.5330,"s":"0.3470","k":"red"},
{"t":"2024-12-11T06:32Z","y":0.5330,"s":"H","k":"ink"},
{"t":"2024-12-11T09:43Z","y":0.5330,"s":"0.3567","k":"red"},
{"t":"2024-12-12T02:46Z","y":0.5330,"s":"L","k":"ink"},
{"t":"2024-12-12T05:09Z","y":0.5330,"s":"0.3370","k":"red"},
{"t":"2024-12-12T22:13Z","y":0.5330,"s":"C","k":"ink"},
{"t":"2024-12-13T01:00Z","y":0.5330,"s":"0.3413","k":"red"},
{"t":"2024-12-13T18:03Z","y":0.5330,"s":"−0.0056 (−1.61%)","k":"red"},
{"t":"2024-12-09T17:38Z","y":0.5122,"s":"0.3520","k":"blue"},
{"t":"2024-12-10T10:41Z","y":0.5122,"s":"0.3419","k":"pink"},
{"t":"2024-12-11T03:45Z","y":0.5122,"s":"0.3379","k":"green"},
{"t":"2024-12-07T06:06Z","y":0.4925,"s":"Vol · ALGO","k":"ink"},
{"t":"2024-12-08T07:30Z","y":0.4925,"s":"24.76M","k":"volred"},
{"t":"2024-12-23T18:33Z","y":0.5300,"s":"USDT","k":"ink"},
{"t":"2024-12-23T16:34Z","y":0.3832,"s":"0.3520","k":"white"},
{"t":"2024-12-23T16:34Z","y":0.3615,"s":"0.3419","k":"white"},
{"t":"2024-12-23T16:34Z","y":0.3408,"s":"0.3413","k":"white"},
{"t":"2024-12-23T16:34Z","y":0.3242,"s":"01:10:14","k":"white"},
{"t":"2024-12-23T16:34Z","y":0.3024,"s":"0.3379","k":"ink"},
{"t":"2024-12-23T16:34Z","y":0.2695,"s":"24.76M","k":"white"}
]},"mark":{"type":"text","align":"left","baseline":"middle","fontSize":12},"encoding":{"y":{"field":"y","type":"quantitative"},"text":{"field":"s"},"color":{"field":"k","type":"nominal","legend":null,"scale":{"domain":["ink","white","red","blue","pink","green","volred"],"range":["#131722","#ffffff","#f23645","#2962ff","#e91e63","#66bb6a","#ef5350"]}}}}
]}
]},
{"width":995,"height":34,
"data":{"values":[
{"t":"2024-12-07T06:06Z","y":0.559,"s":"MACD (12, 26, close)","k":"ink"},
{"t":"2024-12-09T04:56Z","y":0.559,"s":"0.0026","k":"teal"},
{"t":"2024-12-09T22:23Z","y":0.559,"s":"−0.0131","k":"blue"},
{"t":"2024-12-10T17:50Z","y":0.559,"s":"−0.0157","k":"orange"}
]},
"mark":{"type":"text","align":"left","baseline":"middle","fontSize":12},
"encoding":{"x":{"field":"t","type":"temporal","axis":null,"scale":{"type":"utc","padding":0,"domain":[1733540160000,1734961620000]}},"y":{"field":"y","type":"quantitative","axis":null,"scale":{"domain":[0,1],"reverse":false}},"text":{"field":"s"},"color":{"field":"k","type":"nominal","legend":null,"scale":{"domain":["ink","teal","blue","orange"],"range":["#131722","#22ab94","#2962ff","#ff6d00"]}}}
},
{"width":995,"height":72,
"encoding":{"x":{"field":"t","type":"temporal","title":null,"scale":{"type":"utc","padding":0,"domain":[1733540160000,1734961620000]},"axis":{"values":[1733702400000,1733875200000,1734048000000,1734177600000,1734307200000,1734480000000,1734652800000,1734782400000,1734912000000],"labels":false,"grid":true}}},
"layer":[
{"data":{"values":[{"t":"2024-12-07T02:56Z","t2":"2024-12-23T13:47Z","y":70,"y2":30}]},"mark":{"type":"rect","fill":"#7e57c2","opacity":0.1},"encoding":{"x2":{"field":"t2"},"y":{"field":"y","type":"quantitative","title":null,"scale":{"domain":[20.79,75.13],"nice":false,"zero":false},"axis":{"orient":"right","values":[75,50,25],"format":".2f","grid":true,"labelPadding":7}},"y2":{"field":"y2"}}},
{"data":{"values":[{"t":"2024-12-07T02:56Z","t2":"2024-12-23T13:47Z","y":70},{"t":"2024-12-07T02:56Z","t2":"2024-12-23T13:47Z","y":30}]},"mark":{"type":"rule","stroke":"#787b86","strokeWidth":1,"strokeDash":[4,4]},"encoding":{"x2":{"field":"t2"},"y":{"field":"y","type":"quantitative"}}},
{"data":{"values":[{"t":"2024-12-07T02:56Z","t2":"2024-12-23T13:47Z","y":50}]},"mark":{"type":"rule","stroke":"#787b86","strokeOpacity":0.5,"strokeWidth":1,"strokeDash":[4,4]},"encoding":{"x2":{"field":"t2"},"y":{"field":"y","type":"quantitative"}}},
{"data":{"name":"rsima"},"mark":{"type":"line","stroke":"#fdd835","strokeWidth":1},"encoding":{"y":{"field":"v","type":"quantitative"}}},
{"data":{"name":"main"},"mark":{"type":"line","stroke":"#7e57c2","strokeWidth":1},"encoding":{"y":{"field":"r","type":"quantitative"}}},
{"data":{"values":[{"t":"2024-12-23T14:00Z","t2":"2024-12-24T14:00Z","y":78.9,"y2":74.4}]},"mark":{"type":"rect","fill":"#ffffff"},"encoding":{"x2":{"field":"t2"},"y":{"field":"y","type":"quantitative"},"y2":{"field":"y2"}}},
{"data":{"values":[
{"t":"2024-12-23T13:47Z","t2":"2024-12-24T06:51Z","y":51.7,"y2":38.9,"k":"purple"},
{"t":"2024-12-23T13:47Z","t2":"2024-12-24T06:51Z","y":38.5,"y2":26.1,"k":"yellow"}
]},"mark":{"type":"rect","cornerRadius":2},"encoding":{"x2":{"field":"t2"},"y":{"field":"y","type":"quantitative"},"y2":{"field":"y2"},"fill":{"field":"k","type":"nominal","legend":null,"scale":{"domain":["purple","yellow"],"range":["#7e57c2","#fdd835"]}}}},
{"data":{"values":[
{"t":"2024-12-07T06:06Z","y":63.8,"s":"RSI (14, close)","k":"ink"},
{"t":"2024-12-08T15:26Z","y":63.8,"s":"46.04","k":"purple"},
{"t":"2024-12-09T05:43Z","y":63.8,"s":"42.60","k":"yellow"},
{"t":"2024-12-09T20:24Z","y":63.8,"s":"Ø","k":"ink"},
{"t":"2024-12-10T02:45Z","y":63.8,"s":"Ø","k":"ink"},
{"t":"2024-12-23T16:34Z","y":45.3,"s":"46.04","k":"white"},
{"t":"2024-12-23T16:34Z","y":32.3,"s":"42.60","k":"ink"}
]},"mark":{"type":"text","align":"left","baseline":"middle","fontSize":12},"encoding":{"y":{"field":"y","type":"quantitative"},"text":{"field":"s"},"color":{"field":"k","type":"nominal","legend":null,"scale":{"domain":["ink","white","purple","yellow"],"range":["#131722","#ffffff","#7e57c2","#fdd835"]}}}}
]},
{"width":995,"height":107,
"encoding":{"x":{"field":"t","type":"temporal","title":null,"scale":{"type":"utc","padding":0,"domain":[1733540160000,1734961620000]},"axis":{"values":[1733702400000,1733875200000,1734048000000,1734177600000,1734307200000,1734480000000,1734652800000,1734782400000,1734912000000],"grid":true,"labelAngle":0,"labelPadding":5,"labelFontWeight":500,"labelFontSize":12,"labelExpr":"utchours(datum.value)==12?'12:00':utcFormat(datum.value,'%-d')"}}},
"layer":[
{"data":{"values":[{"t":"2024-12-06T22:58Z","t2":"2024-12-24T19:32Z","y":0.15208,"y2":-0.05284}]},"mark":{"type":"rect","fill":"transparent"},"encoding":{"x2":{"field":"t2"},"y":{"field":"y","type":"quantitative","title":null,"scale":{"domain":[-0.0297,0.01083],"nice":false,"zero":false},"axis":{"orient":"right","values":[0,-0.02],"format":".4f","grid":true,"labelPadding":7}},"y2":{"field":"y2"}}},
{"data":{"values":[{"t":"2024-12-07T02:44Z","t2":"2024-12-24T15:23Z","y":0.14167,"y2":-0.0392}]},"mark":{"type":"rect","fill":"transparent","stroke":"#ebebf3","strokeWidth":2},"encoding":{"x2":{"field":"t2"},"y":{"field":"y","type":"quantitative"},"y2":{"field":"y2"}}},
{"data":{"values":[{"t":"2024-12-07T02:44Z","t2":"2024-12-24T15:23Z","y":0.05095},{"t":"2024-12-07T02:44Z","t2":"2024-12-24T15:23Z","y":0.03807},{"t":"2024-12-07T02:44Z","t2":"2024-12-24T15:23Z","y":0.0108}]},"mark":{"type":"rule","stroke":"#ebebf3","strokeWidth":2},"encoding":{"x2":{"field":"t2"},"y":{"field":"y","type":"quantitative"}}},
{"data":{"values":[{"t":"2024-12-07T02:56Z","t2":"2024-12-23T13:47Z","y":0}]},"mark":{"type":"rule","stroke":"#787b86","strokeOpacity":0.7,"strokeWidth":1,"strokeDash":[4,4]},"encoding":{"x2":{"field":"t2"},"y":{"field":"y","type":"quantitative"}}},
{"data":{"name":"main"},"mark":{"type":"bar","width":9},"encoding":{"y":{"field":"g","type":"quantitative"},"y2":{"datum":0},"color":{"field":"p","type":"nominal","legend":null,"scale":{"domain":["a","b","c","d","ink","white","teal","violet","amber"],"range":["#26a69a","#b2dfdb","#ff5252","#ffcdd2","#131722","#ffffff","#26a69a","#2b2bff","#ffb300"]}}}},
{"data":{"name":"signal"},"mark":{"type":"line","stroke":"#ffb300","strokeWidth":1},"encoding":{"y":{"field":"v","type":"quantitative"}}},
{"data":{"name":"main"},"mark":{"type":"line","stroke":"#2b2bff","strokeWidth":1},"encoding":{"y":{"field":"m","type":"quantitative"}}},
{"data":{"values":[
{"t":"2024-12-23T13:47Z","t2":"2024-12-24T09:14Z","y":0.00587,"y2":-0.00045,"k":"teal"},
{"t":"2024-12-23T13:47Z","t2":"2024-12-24T12:00Z","y":-0.01004,"y2":-0.01648,"k":"violet"},
{"t":"2024-12-23T13:47Z","t2":"2024-12-24T12:00Z","y":-0.01648,"y2":-0.0229,"k":"amber"},
{"t":"2024-12-07T02:56Z","t2":"2024-12-07T06:06Z","y":-0.04413,"y2":-0.04527,"k":"ink"},
{"t":"2024-12-07T04:31Z","t2":"2024-12-07T06:06Z","y":-0.04413,"y2":-0.04754,"k":"ink"}
]},"mark":{"type":"rect"},"encoding":{"x2":{"field":"t2"},"y":{"field":"y","type":"quantitative"},"y2":{"field":"y2"},"fill":{"field":"k","type":"nominal","legend":null,"scale":{"domain":["teal","violet","amber","ink"],"range":["#26a69a","#2b2bff","#ffb300","#131722"]}}}},
{"data":{"values":[{"t":"2024-12-07T07:18Z","y":-0.04489}]},"mark":{"type":"point","filled":true,"shape":"circle","size":22,"color":"#131722","opacity":1},"encoding":{"y":{"field":"y","type":"quantitative"}}},
{"data":{"values":[{"t":"2024-12-07T09:05Z","y":-0.04602}]},"mark":{"type":"point","filled":true,"shape":"triangle-down","size":50,"color":"#131722","opacity":1},"encoding":{"y":{"field":"y","type":"quantitative"}}},
{"data":{"values":[{"t":"2024-12-07T12:27Z","y":-0.04602,"s":"TradingView"}]},"mark":{"type":"text","align":"left","baseline":"middle","fontSize":13,"color":"#131722"},"encoding":{"y":{"field":"y","type":"quantitative"},"text":{"field":"s"}}},
{"data":{"values":[
{"t":"2024-12-07T06:06Z","y":0.0051,"s":"MACD (12, 26, close)","k":"ink"},
{"t":"2024-12-09T04:56Z","y":0.0051,"s":"0.0026","k":"teal"},
{"t":"2024-12-09T22:23Z","y":0.0051,"s":"−0.0131","k":"violet"},
{"t":"2024-12-10T17:50Z","y":0.0051,"s":"−0.0157","k":"amber"},
{"t":"2024-12-23T16:34Z","y":0.00271,"s":"0.0026","k":"white"},
{"t":"2024-12-23T16:34Z","y":-0.01326,"s":"−0.0131","k":"white"},
{"t":"2024-12-23T16:34Z","y":-0.0197,"s":"−0.0157","k":"ink"}
]},"mark":{"type":"text","align":"left","baseline":"middle","fontSize":12},"encoding":{"y":{"field":"y","type":"quantitative"},"text":{"field":"s"},"color":{"field":"k","type":"nominal","legend":null,"scale":{"domain":["a","b","c","d","ink","white","teal","violet","amber"],"range":["#26a69a","#b2dfdb","#ff5252","#ffcdd2","#131722","#ffffff","#26a69a","#2b2bff","#ffb300"]}}}}
]}
]}
